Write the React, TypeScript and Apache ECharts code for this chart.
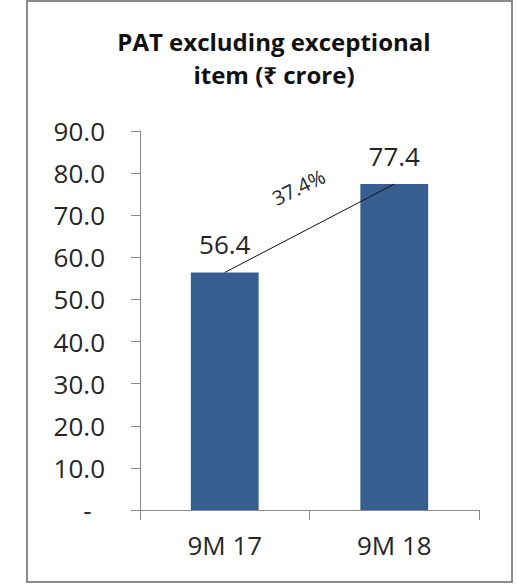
import React, { useEffect, useRef } from "react";
import * as echarts from "echarts";

const titleLines = ["PAT excluding exceptional", "item (₹ crore)"];
const categories = ["9M 17", "9M 18"];
const patValues = [56.4, 77.4];
const growthLabel = "37.4%";
const yMin = 0;
const yMax = 90;
const yInterval = 10;

const FONT = "'Open Sans', 'Noto Sans', sans-serif";
const TEXT = "#262626";
const AXIS = "#8a8a8a";

export default function App() {
  const ref = useRef<HTMLDivElement>(null);
  useEffect(() => {
    if (!ref.current) return;
    const chart = echarts.init(ref.current, undefined, { renderer: "svg" });
    chart.setOption({
      animation: false,
      backgroundColor: "#ffffff",
      title: {
        text: titleLines.join("\n"),
        left: 269,
        top: 20,
        textAlign: "center",
        textStyle: {
          fontFamily: FONT,
          fontWeight: "bold",
          fontSize: 24,
          lineHeight: 33,
          color: "#111",
        },
      },
      grid: { left: 140, right: 38, top: 131, bottom: 74, containLabel: false },
      xAxis: {
        type: "category",
        data: categories,
        boundaryGap: true,
        axisLine: { lineStyle: { color: AXIS, width: 1 } },
        axisTick: { show: true, length: 10, inside: false, alignWithLabel: false, lineStyle: { color: AXIS } },
        axisLabel: { fontFamily: FONT, fontSize: 26, color: TEXT, margin: 22 },
      },
      yAxis: {
        type: "value",
        min: yMin,
        max: yMax,
        interval: yInterval,
        splitLine: { show: false },
        axisLine: { show: true, lineStyle: { color: AXIS, width: 1 } },
        axisTick: { show: true, length: 9, inside: false, lineStyle: { color: AXIS } },
        axisLabel: {
          fontFamily: FONT,
          fontSize: 26,
          color: TEXT,
          margin: 35,
          formatter: (v: number) => (v === 0 ? "-  " : v.toFixed(1)),
        },
      },
      series: [
        {
          type: "bar",
          data: patValues,
          barWidth: "40%",
          itemStyle: { color: "#365e8f" },
          label: {
            show: true,
            position: "top",
            distance: 15,
            fontFamily: FONT,
            fontSize: 26,
            color: TEXT,
            formatter: (p: any) => Number(p.value).toFixed(1),
          },
          z: 2,
        },
        {
          type: "line",
          data: patValues,
          symbol: "none",
          lineStyle: { color: "#111", width: 1 },
          z: 5,
        },
      ],
    });
    const p0 = chart.convertToPixel({ gridIndex: 0 }, [0, patValues[0]]) as number[];
    const p1 = chart.convertToPixel({ gridIndex: 0 }, [1, patValues[1]]) as number[];
    const mx = (p0[0] + p1[0]) / 2;
    const my = (p0[1] + p1[1]) / 2;
    const ang = Math.atan2(p0[1] - p1[1], p1[0] - p0[0]);
    chart.setOption({
      graphic: [
        {
          type: "rect",
          shape: { x: 27, y: 1, width: 485, height: 581 },
          style: { fill: "none", stroke: "#8c8c8c", lineWidth: 2 },
          silent: true,
        },
        {
          type: "text",
          x: mx - 11,
          y: my - 41,
          rotation: ang * 0.95,
          style: {
            text: growthLabel,
            fontFamily: FONT,
            fontSize: 20,
            fill: TEXT,
            textAlign: "center",
            textVerticalAlign: "middle",
          },
          z: 10,
        },
      ],
    });
    return () => chart.dispose();
  }, []);
  return (
    <div
      ref={ref}
      style={{ position: "absolute", left: 0, top: 0, width: 517, height: 584 }}
    />
  );
}
